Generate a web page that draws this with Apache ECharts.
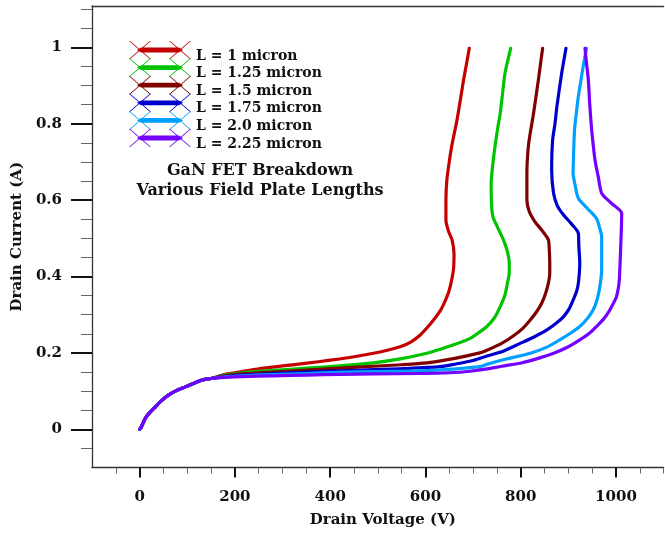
<!DOCTYPE html>
<html>
<head>
<meta charset="utf-8">
<script src="https://cdn.jsdelivr.net/npm/echarts@6.0.0/dist/echarts.min.js"></script>
<style>
  html, body { margin: 0; padding: 0; background: #fff; }
  #chart { width: 665px; height: 537px; }
</style>
</head>
<body>
<div id="chart"></div>
<script>
// shared start of every curve (drain voltage V, drain current A)
const rampUp = [[0, 0], [3, 0.005], [12, 0.029], [22, 0.045], [33, 0.059], [46, 0.075], [61, 0.09],
  [78, 0.102], [96, 0.111], [115, 0.121], [131, 0.129], [150, 0.133]]

const curveL100 = [[180, 0.144], [215, 0.151], [260, 0.16], [300, 0.166], [351, 0.173], [400, 0.181],
  [450, 0.19], [491, 0.199], [520, 0.207], [547, 0.216], [570, 0.229], [589, 0.247], [603, 0.265],
  [617, 0.286], [631, 0.31], [641, 0.335], [649, 0.36], [655, 0.39], [659, 0.42], [660, 0.46],
  [656, 0.495], [648, 0.52], [643, 0.547], [643, 0.6], [645, 0.653], [650, 0.7], [655, 0.74],
  [666, 0.808], [673, 0.86], [680, 0.914], [686, 0.955], [692, 0.997]]

const curveL125 = [[180, 0.142], [215, 0.148], [280, 0.154], [351, 0.16], [420, 0.166], [491, 0.174],
  [550, 0.185], [603, 0.199], [630, 0.209], [659, 0.221], [694, 0.238], [714, 0.255], [729, 0.269],
  [745, 0.292], [757, 0.321], [767, 0.352], [772, 0.382], [776, 0.41], [776, 0.435], [772, 0.465],
  [765, 0.492], [751, 0.53], [742, 0.555], [739, 0.583], [738, 0.644], [742, 0.7], [746, 0.74],
  [752, 0.79], [757, 0.827], [762, 0.88], [767, 0.932], [779, 0.997]]

const curveL150 = [[180, 0.14], [215, 0.145], [280, 0.15], [351, 0.155], [420, 0.16], [491, 0.165],
  [550, 0.169], [603, 0.174], [659, 0.185], [714, 0.2], [729, 0.207], [760, 0.225], [785, 0.245],
  [805, 0.265], [820, 0.286], [833, 0.307], [844, 0.33], [852, 0.355], [858, 0.382], [861, 0.41],
  [861, 0.435], [860, 0.47], [858, 0.496], [845, 0.52], [830, 0.543], [818, 0.57], [813, 0.6],
  [813, 0.67], [816, 0.74], [822, 0.79], [827, 0.827], [837, 0.914], [846, 0.997]]

const curveL175 = [[180, 0.138], [215, 0.142], [280, 0.146], [351, 0.15], [420, 0.153], [491, 0.156],
  [560, 0.159], [631, 0.164], [659, 0.17], [700, 0.18], [729, 0.192], [760, 0.203], [799, 0.225],
  [830, 0.243], [855, 0.26], [875, 0.278], [890, 0.295], [902, 0.316], [910, 0.338], [917, 0.36],
  [921, 0.382], [924, 0.435], [922, 0.48], [921, 0.513], [905, 0.54], [890, 0.561], [877, 0.585],
  [869, 0.618], [865, 0.679], [867, 0.757], [872, 0.8], [876, 0.845], [886, 0.932], [895, 0.997]]

const curveL200 = [[180, 0.137], [215, 0.14], [280, 0.143], [351, 0.146], [420, 0.149], [491, 0.151],
  [589, 0.153], [650, 0.157], [714, 0.164], [729, 0.17], [770, 0.184], [820, 0.199], [855, 0.215],
  [882, 0.234], [905, 0.252], [924, 0.269], [940, 0.29], [952, 0.312], [960, 0.338], [965, 0.365],
  [968, 0.39], [970, 0.417], [970, 0.504], [965, 0.53], [959, 0.552], [940, 0.578], [921, 0.605],
  [914, 0.64], [910, 0.67], [911, 0.72], [913, 0.784], [917, 0.83], [921, 0.871], [926, 0.91],
  [931, 0.949], [938, 0.997]]

const curveL225 = [[180, 0.136], [215, 0.138], [280, 0.14], [351, 0.142], [420, 0.144], [491, 0.145],
  [589, 0.146], [650, 0.148], [694, 0.152], [730, 0.158], [760, 0.165], [799, 0.173], [835, 0.185],
  [869, 0.199], [900, 0.216], [924, 0.234], [945, 0.252], [959, 0.269], [975, 0.29], [987, 0.312],
  [996, 0.333], [1001, 0.347], [1005, 0.37], [1007, 0.391], [1010, 0.478], [1012, 0.565],
  [990, 0.592], [970, 0.618], [963, 0.66], [956, 0.705], [949, 0.784], [945, 0.85], [942, 0.914],
  [938, 0.96], [935, 0.997]]

const seriesNames = ['L = 1 micron', 'L = 1.25 micron', 'L = 1.5 micron', 'L = 1.75 micron', 'L = 2.0 micron', 'L = 2.25 micron']
const curves = [curveL100, curveL125, curveL150, curveL175, curveL200, curveL225]
const lineColors = ['#c40000', '#00c400', '#800000', '#0000cc', '#00a0ff', '#7400ff']

const xMajorTicks = [0, 200, 400, 600, 800, 1000]
const xMinorTicks = [-50, 50, 100, 150, 250, 300, 350, 450, 500, 550, 650, 700, 750, 850, 900, 950, 1050, 1100]
const yMajorTicks = [0, 0.2, 0.4, 0.6, 0.8, 1]
const yMinorTicks = [-0.05, 0.05, 0.1, 0.15, 0.25, 0.3, 0.35, 0.45, 0.5, 0.55, 0.65, 0.7, 0.75, 0.85, 0.9, 0.95, 1.05, 1.1]

const FONT = 'DejaVu Serif'

// legend glyph: thick bar with thin crosses at both ends (plus an empty point to push it above the text)
const legendIcon = 'path://M8 9L12 6.6L50 6.6L54 9L50 11.4L12 11.4Z' +
  'M0 0L1.2 0L22 18L20.8 18Z M0 18L20.8 0L22 0L1.2 18Z' +
  'M40 0L41.2 0L62 18L60.8 18Z M40 18L60.8 0L62 0L41.2 18Z' +
  'M0 30L62 30L0 30Z'

const chart = echarts.init(document.getElementById('chart'))

const option = {
  animation: false,
  backgroundColor: '#fff',
  title: {
    text: 'GaN FET Breakdown\nVarious Field Plate Lengths',
    left: 260,
    top: 161,
    padding: 0,
    textAlign: 'center',
    textStyle: {
      fontFamily: FONT,
      fontWeight: 'bold',
      fontSize: 16,
      lineHeight: 20,
      color: '#111'
    }
  },
  legend: {
    orient: 'vertical',
    left: 129,
    top: 41,
    padding: 0,
    itemWidth: 62,
    itemHeight: 30,
    itemGap: -12.4,
    icon: legendIcon,
    itemStyle: { borderWidth: 0 },
    textStyle: {
      fontFamily: FONT,
      fontWeight: 'bold',
      fontSize: 14,
      color: '#111'
    },
    data: seriesNames
  },
  grid: {
    left: 92,
    right: 1.4,
    top: 6,
    bottom: 69.5,
    containLabel: false
  },
  xAxis: [
    {
      type: 'value',
      position: 'bottom',
      min: -100,
      max: 1100,
      name: 'Drain Voltage (V)',
      nameLocation: 'middle',
      nameGap: 45,
      nameTextStyle: {
        fontFamily: FONT, fontWeight: 'bold', fontSize: 15, color: '#111',
        padding: [0, 0, 0, 10]
      },
      axisLine: { onZero: false, lineStyle: { color: '#333', width: 1.3 } },
      axisTick: { customValues: xMajorTicks, length: 10, lineStyle: { color: '#111', width: 2 } },
      axisLabel: {
        customValues: xMajorTicks,
        formatter: v => String(v),
        margin: 22,
        fontFamily: FONT, fontWeight: 'bold', fontSize: 15, color: '#111'
      },
      splitLine: { show: false }
    },
    {
      type: 'value',
      position: 'bottom',
      min: -100,
      max: 1100,
      axisLine: { show: false, onZero: false },
      axisTick: { customValues: xMinorTicks, length: 6, lineStyle: { color: '#666', width: 1 } },
      axisLabel: { show: false },
      splitLine: { show: false }
    },
    {
      type: 'value',
      position: 'top',
      min: -100,
      max: 1100,
      axisLine: { onZero: false, lineStyle: { color: '#333', width: 1.3 } },
      axisTick: { show: false },
      axisLabel: { show: false },
      splitLine: { show: false }
    }
  ],
  yAxis: [
    {
      type: 'value',
      position: 'left',
      min: -0.1,
      max: 1.108,
      name: 'Drain Current (A)',
      nameLocation: 'middle',
      nameGap: 67,
      nameTextStyle: { fontFamily: FONT, fontWeight: 'bold', fontSize: 15, color: '#111' },
      axisLine: { show: true, onZero: false, lineStyle: { color: '#333', width: 1.3 } },
      axisTick: { show: true, customValues: yMajorTicks, length: 21, lineStyle: { color: '#111', width: 2 } },
      axisLabel: {
        customValues: yMajorTicks,
        formatter: v => String(v),
        margin: 30,
        fontFamily: FONT, fontWeight: 'bold', fontSize: 15, color: '#111'
      },
      splitLine: { show: false }
    },
    {
      type: 'value',
      position: 'left',
      min: -0.1,
      max: 1.108,
      axisLine: { show: false, onZero: false },
      axisTick: { show: true, customValues: yMinorTicks, length: 11, lineStyle: { color: '#666', width: 1 } },
      axisLabel: { show: false },
      splitLine: { show: false }
    }
  ],
  series: curves.map((c, i) => ({
    name: seriesNames[i],
    type: 'line',
    xAxisIndex: 0,
    yAxisIndex: 0,
    data: rampUp.concat(c),
    symbol: 'none',
    smooth: 0.25,
    color: lineColors[i],
    lineStyle: { color: lineColors[i], width: 3.2, join: 'round', cap: 'round' },
    z: 2 + i
  }))
}

chart.setOption(option)
</script>
</body>
</html>
